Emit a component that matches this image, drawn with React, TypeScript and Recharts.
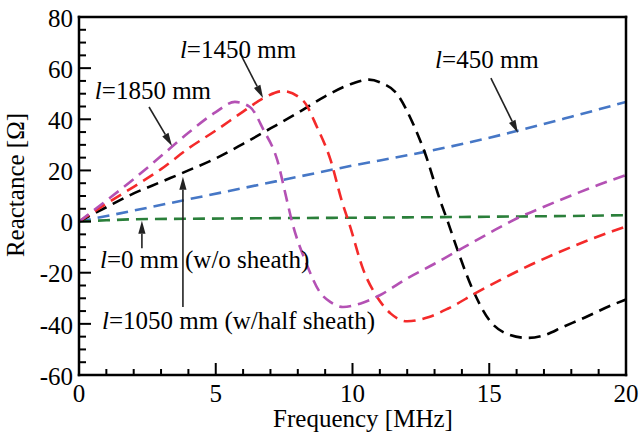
import React from 'react'
import {
  LineChart, Line, XAxis, YAxis, ReferenceLine, ReferenceDot
} from 'recharts'

// frequency [MHz] and reactance [Ω] for each cable length
const F_1850 = [0, 1, 2, 3, 4, 5, 5.7, 6.25, 6.75, 7.25, 7.6, 7.8, 8.3, 8.8, 9.2, 9.65, 10.3, 11, 12, 13, 14, 15, 16, 17, 18, 19, 20]
const X_1850 = [0, 8.2, 16.6, 25.6, 34.7, 42.8, 46.8, 44.8, 35.8, 24, 8.4, -0.5, -16, -27.5, -31.5, -33.4, -32, -28.8, -22.2, -16.5, -10.5, -4.5, 1.2, 5.8, 10.2, 14.4, 18.2]

const F_1450 = [0, 1, 2, 3, 4, 5, 6, 6.75, 7.45, 8.2, 8.7, 9.2, 9.6, 9.9, 10.4, 10.9, 11.4, 12, 12.8, 13.5, 14.5, 15.5, 16.5, 17.5, 18.5, 19.5, 20]
const X_1450 = [0, 7, 13.6, 20.5, 28.6, 35.6, 43, 48.3, 51, 47.2, 37, 24, 8.4, -1.5, -19, -29.5, -36, -39, -37.3, -34, -28, -22.3, -17, -12.2, -7.8, -3.8, -1.9]

const F_1050 = [0, 1, 2, 3, 4, 5, 6, 7, 8, 9, 10, 10.6, 11.1, 11.6, 12.2, 12.65, 13.2, 13.5, 13.8, 14.4, 15, 15.75, 16.4, 17, 17.7, 18.5, 19.5, 20]
const X_1050 = [0, 5.6, 11, 15.5, 20, 24.7, 30.4, 36.4, 42.5, 49, 54, 55.5, 54, 50.3, 38.6, 26.8, 8.4, -0.5, -9.9, -26.7, -38.5, -44.3, -45.5, -44.5, -41.2, -37.5, -32.6, -30.5]

const F_450 = [0, 2, 4, 6, 8, 10, 12, 14, 16, 18, 20]
const X_450 = [0, 4.3, 8.7, 13.1, 17.5, 21.9, 25.9, 30.3, 35.4, 41, 46.8]

const F_0 = [0, 1, 2, 4, 6, 8, 10, 12, 14, 16, 18, 20]
const X_0 = [0, 0.5, 0.9, 1.1, 1.25, 1.4, 1.5, 1.65, 1.8, 2.0, 2.2, 2.5]

const X_TICKS = [0, 1, 2, 3, 4, 5, 6, 7, 8, 9, 10, 11, 12, 13, 14, 15, 16, 17, 18, 19, 20]
const X_LABELS = [0, 5, 10, 15, 20]
const Y_TICKS = [-60, -55, -50, -45, -40, -35, -30, -25, -20, -15, -10, -5, 0, 5, 10, 15, 20, 25, 30, 35, 40, 45, 50, 55, 60, 65, 70, 75, 80]
const Y_LABELS = [-60, -40, -20, 0, 20, 40, 60, 80]

const toRows = (f: number[], v: number[]) => f.map((x, i) => ({ f: x, v: v[i] }))

const SERIES = [
  { name: 'l=450', rows: toRows(F_450, X_450), color: '#4677c6' },
  { name: 'l=0', rows: toRows(F_0, X_0), color: '#2a7f3a' },
  { name: 'l=1050', rows: toRows(F_1050, X_1050), color: '#000000' },
  { name: 'l=1450', rows: toRows(F_1450, X_1450), color: '#f42a2a' },
  { name: 'l=1850', rows: toRows(F_1850, X_1850), color: '#b451b4' },
]

// annotation text (anchored at data coords) and arrows
const NOTES = [
  { len: '1850 mm', at: [0.58, 47.9], from: [2.56, 44.8], to: [3.4, 29.6] },
  { len: '1450 mm', at: [3.69, 63.9], from: [5.89, 65.9], to: [6.73, 48.3] },
  { len: '450 mm', at: [13.02, 60.1], from: [15.06, 56.1], to: [16.05, 34.6] },
  { len: '0 mm (w/o sheath)', at: [0.77, -18.1], from: [2.3, -10.4], to: [2.3, 0.3] },
  { len: '1050 mm (w/half sheath)', at: [0.84, -42.0], from: [3.8, -33.4], to: [3.8, 17.5] },
]

const FONT = "'Liberation Serif', 'Times New Roman', serif"
const FS = 25

const BottomTick = ({ x, y, payload }: any) => {
  const major = X_LABELS.includes(payload.value)
  return (
    <g>
      <line x1={x} y1={y} x2={x} y2={y - (major ? 12 : 6)} stroke="#000" strokeWidth={2} />
      {major && (
        <text x={x} y={y + 27} textAnchor="middle" fontSize={FS} fontFamily={FONT} fill="#000">
          {payload.value}
        </text>
      )}
    </g>
  )
}

const TopTick = ({ x, y, payload }: any) => {
  const major = X_LABELS.includes(payload.value)
  return <line x1={x} y1={y} x2={x} y2={y + (major ? 12 : 6)} stroke="#000" strokeWidth={2} />
}

const LeftTick = ({ x, y, payload }: any) => {
  const major = Y_LABELS.includes(payload.value)
  return (
    <g>
      <line x1={x} y1={y} x2={x + (major ? 12 : 7)} y2={y} stroke="#000" strokeWidth={2} />
      {major && (
        <text x={x - 6} y={y + 1} dy="0.35em" textAnchor="end" fontSize={FS} fontFamily={FONT} fill="#000">
          {payload.value}
        </text>
      )}
    </g>
  )
}

const RightTick = ({ x, y, payload }: any) => {
  const major = Y_LABELS.includes(payload.value)
  return <line x1={x} y1={y} x2={x - (major ? 12 : 7)} y2={y} stroke="#000" strokeWidth={2} />
}

const Arrow = ({ x1, y1, x2, y2 }: any) => {
  const a = Math.atan2(y2 - y1, x2 - x1)
  const L = 13
  const W = 3.6
  const bx = x2 - L * Math.cos(a)
  const by = y2 - L * Math.sin(a)
  const px = -Math.sin(a) * W
  const py = Math.cos(a) * W
  return (
    <g>
      <line x1={x1} y1={y1} x2={bx} y2={by} stroke="#222" strokeWidth={1.6} />
      <polygon points={`${x2},${y2} ${bx + px},${by + py} ${bx - px},${by - py}`} fill="#222" />
    </g>
  )
}

const noteLabel = (len: string) => ({ cx, cy }: any) => (
  <text x={cx} y={cy} fontSize={FS} fontFamily={FONT} fill="#000">
    <tspan fontStyle="italic">l</tspan>={len}
  </text>
)

const XLabel = () => (
  <text x={363} y={427} textAnchor="middle" fontSize={FS} fontFamily={FONT} fill="#000">
    Frequency [MHz]
  </text>
)

const YLabel = () => (
  <text x={24} y={185} transform="rotate(-90 24 185)" textAnchor="middle" fontSize={FS} fontFamily={FONT} fill="#000">
    Reactance [Ω]
  </text>
)

const axisLine = { stroke: '#000', strokeWidth: 2.5, strokeLinecap: 'square' as const }

export default function App() {
  return (
    <div style={{ position: 'absolute', left: 0, top: 0, background: '#fff' }}>
      <LineChart width={639} height={436} margin={{ top: 0, right: 0, left: 0, bottom: 0 }}>
        <XAxis
          dataKey="f" type="number" domain={[0, 20]} ticks={X_TICKS} interval={0}
          height={61} tickSize={0} tickMargin={0} tickLine={false}
          axisLine={axisLine} tick={<BottomTick />} allowDataOverflow
          label={<XLabel />}
        />
        <XAxis
          xAxisId="top" orientation="top" dataKey="f" type="number" domain={[0, 20]} ticks={X_TICKS}
          interval={0} height={17} tickSize={0} tickMargin={0} tickLine={false}
          axisLine={axisLine} tick={<TopTick />}
        />
        <YAxis
          type="number" domain={[-60, 80]} ticks={Y_TICKS} interval={0} width={79}
          tickSize={0} tickMargin={0} tickLine={false} axisLine={axisLine}
          tick={<LeftTick />} allowDataOverflow
          label={<YLabel />}
        />
        <YAxis
          yAxisId="right" orientation="right" type="number" domain={[-60, 80]} ticks={Y_TICKS}
          interval={0} width={13} tickSize={0} tickMargin={0} tickLine={false}
          axisLine={axisLine} tick={<RightTick />}
        />
        {SERIES.map((s) => (
          <Line
            key={s.name}
            data={s.rows}
            dataKey="v"
            type="monotone"
            stroke={s.color}
            strokeWidth={2.6}
            strokeDasharray="12 7"
            dot={false}
            isAnimationActive={false}
          />
        ))}
        {NOTES.map((n) => (
          <ReferenceLine
            key={'a' + n.len}
            segment={[{ x: n.from[0], y: n.from[1] }, { x: n.to[0], y: n.to[1] }]}
            shape={<Arrow />}
          />
        ))}
        {NOTES.map((n) => (
          <ReferenceDot
            key={'t' + n.len}
            x={n.at[0]}
            y={n.at[1]}
            r={0}
            shape={noteLabel(n.len)}
          />
        ))}
      </LineChart>
    </div>
  )
}
